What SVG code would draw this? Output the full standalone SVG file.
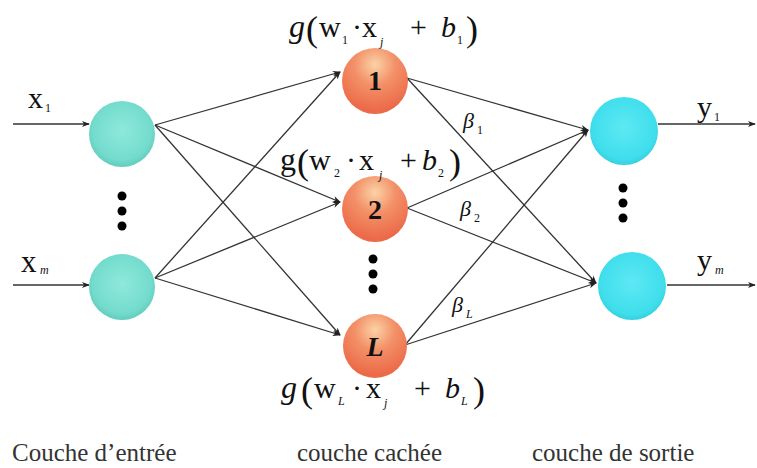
<svg xmlns="http://www.w3.org/2000/svg" width="757" height="468" viewBox="0 0 757 468">
<defs>
<radialGradient id="gIn" cx="0.5" cy="0.45" r="0.55">
<stop offset="0" stop-color="#8ee9da"/>
<stop offset="0.8" stop-color="#74dccd"/>
<stop offset="1" stop-color="#62cdbd"/>
</radialGradient>
<radialGradient id="gOut" cx="0.5" cy="0.45" r="0.55">
<stop offset="0" stop-color="#5ee8f4"/>
<stop offset="0.85" stop-color="#3fdeec"/>
<stop offset="1" stop-color="#36d0e0"/>
</radialGradient>
<radialGradient id="gHid" cx="0.5" cy="0.25" r="0.7">
<stop offset="0" stop-color="#fbd2a6"/>
<stop offset="0.45" stop-color="#f39068"/>
<stop offset="1" stop-color="#eb6a48"/>
</radialGradient>
<marker id="arr" viewBox="0 0 10 10" refX="9" refY="5" markerWidth="8" markerHeight="8" markerUnits="userSpaceOnUse" orient="auto">
<path d="M0,1 L10,5 L0,9 L3,5 Z" fill="#222"/>
</marker>
</defs>
<style>
.ln{stroke:#333;stroke-width:1.3;fill:none;marker-end:url(#arr)}
.t{font-family:"Liberation Serif","Times New Roman",serif;fill:#111}
.f{font-size:30px}
.s{font-size:12px}
.p{font-size:36px}
.i{font-style:italic}
.lab{font-family:"Liberation Serif","Times New Roman",serif;font-size:25px;fill:#333}
.num{font-family:"Liberation Serif","Times New Roman",serif;font-size:28px;font-weight:bold;fill:#111;text-anchor:middle}
.dot{fill:#000}
</style>
<rect width="757" height="468" fill="#fff"/>
<g id="connectors">
<line class="ln" x1="13" y1="124" x2="89" y2="124"/>
<line class="ln" x1="13" y1="285" x2="89" y2="285"/>
<line class="ln" x1="155" y1="125" x2="340" y2="72"/>
<line class="ln" x1="155" y1="125" x2="340" y2="202"/>
<line class="ln" x1="155" y1="125" x2="340" y2="335"/>
<line class="ln" x1="155" y1="278" x2="340" y2="72"/>
<line class="ln" x1="155" y1="278" x2="340" y2="202"/>
<line class="ln" x1="155" y1="278" x2="340" y2="335"/>
<line class="ln" x1="407" y1="78" x2="588" y2="130"/>
<line class="ln" x1="407" y1="78" x2="596" y2="283"/>
<line class="ln" x1="407" y1="208" x2="588" y2="130"/>
<line class="ln" x1="407" y1="208" x2="596" y2="283"/>
<line class="ln" x1="405" y1="345" x2="588" y2="130"/>
<line class="ln" x1="405" y1="345" x2="596" y2="283"/>
<line class="ln" x1="658" y1="124" x2="755" y2="124"/>
<line class="ln" x1="667" y1="285" x2="755" y2="285"/>
</g>
<g id="in1"><circle cx="122" cy="134" r="33" fill="url(#gIn)"/></g>
<g id="inm"><circle cx="122" cy="287" r="33" fill="url(#gIn)"/></g>
<g id="in-dots"><circle class="dot" cx="122" cy="196" r="4.5"/><circle class="dot" cx="122" cy="211" r="4.5"/><circle class="dot" cx="122" cy="226" r="4.5"/></g>
<g id="h1"><circle cx="375" cy="81" r="33" fill="url(#gHid)"/><text class="num" x="375" y="90">1</text></g>
<g id="h2"><circle cx="375" cy="209" r="33" fill="url(#gHid)"/><text class="num" x="375" y="219">2</text></g>
<g id="hL"><circle cx="375" cy="346" r="32" fill="url(#gHid)"/><text class="num i" x="375" y="356">L</text></g>
<g id="h-dots"><circle class="dot" cx="373" cy="259" r="4.5"/><circle class="dot" cx="373" cy="274" r="4.5"/><circle class="dot" cx="373" cy="289" r="4.5"/></g>
<g id="out1"><circle cx="624" cy="131" r="34" fill="url(#gOut)"/></g>
<g id="outm"><circle cx="632" cy="286" r="34" fill="url(#gOut)"/></g>
<g id="out-dots"><circle class="dot" cx="623" cy="188" r="4.5"/><circle class="dot" cx="623" cy="203" r="4.5"/><circle class="dot" cx="623" cy="218" r="4.5"/></g>
<g id="labels">
<text class="t" x="28" y="108" font-size="30">x<tspan class="s" x="45" y="112">1</tspan></text>
<text class="t" x="21" y="272" font-size="31">x<tspan class="s i" x="40" y="274">m</tspan></text>
<text class="t" x="697" y="117" font-size="30">y<tspan class="s" x="714" y="121">1</tspan></text>
<text class="t" x="697" y="270" font-size="30">y<tspan class="s i" x="715" y="274">m</tspan></text>
<text class="t f"><tspan class="i" x="289" y="37" font-size="32">g</tspan><tspan class="p" x="306" y="41">(</tspan><tspan x="319" y="37">w</tspan><tspan class="s" x="342" y="44">1</tspan><tspan x="352" y="37">·</tspan><tspan x="362" y="37">x</tspan><tspan class="s i" x="380" y="46">j</tspan><tspan x="410" y="37">+</tspan><tspan class="i" x="441" y="37">b</tspan><tspan class="s" x="457" y="44">1</tspan><tspan class="p" x="466" y="41">)</tspan></text>
<text class="t f"><tspan x="280" y="170" font-size="32">g</tspan><tspan class="p" x="297" y="174">(</tspan><tspan x="309" y="170">w</tspan><tspan class="s" x="334" y="177">2</tspan><tspan x="346" y="170">·</tspan><tspan x="359" y="170">x</tspan><tspan class="s i" x="379" y="179">j</tspan><tspan x="400" y="170">+</tspan><tspan class="i" x="422" y="170">b</tspan><tspan class="s" x="438" y="177">2</tspan><tspan class="p" x="449" y="174">)</tspan></text>
<text class="t f"><tspan class="i" x="281" y="398" font-size="32">g</tspan><tspan class="p" x="301" y="402">(</tspan><tspan x="314" y="398">w</tspan><tspan class="s i" x="338" y="405">L</tspan><tspan x="352" y="398">·</tspan><tspan x="366" y="398">x</tspan><tspan class="s i" x="384" y="407">j</tspan><tspan x="414" y="398">+</tspan><tspan class="i" x="445" y="398">b</tspan><tspan class="s i" x="461" y="405">L</tspan><tspan class="p" x="473" y="402">)</tspan></text>
<text class="t i" x="463" y="128" font-size="22">β<tspan class="s" x="477" y="134" font-style="normal">1</tspan></text>
<text class="t i" x="460" y="216" font-size="22">β<tspan class="s" x="474" y="222" font-style="normal">2</tspan></text>
<text class="t i" x="452" y="312" font-size="22">β<tspan class="s" x="466" y="318">L</tspan></text>
<text class="lab" x="12" y="461">Couche d’entrée</text>
<text class="lab" x="297" y="461">couche cachée</text>
<text class="lab" x="532" y="461">couche de sortie</text>
</g>
</svg>
